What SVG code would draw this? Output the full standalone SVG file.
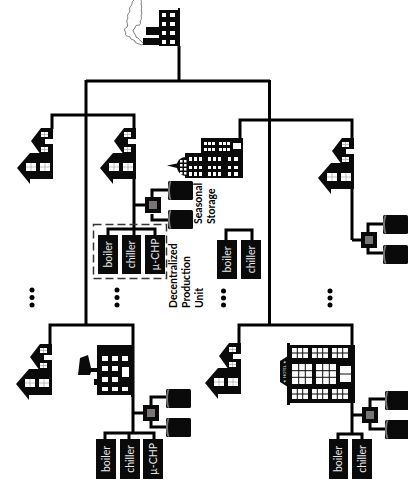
<svg xmlns="http://www.w3.org/2000/svg" width="408" height="484" viewBox="0 0 408 484">
<style>
.ln{fill:none;stroke:#000;stroke-width:3}
.k{fill:#0a0a0a}
.w{fill:#fff}
.g{fill:none;stroke:#0a0a0a;stroke-width:1}
.lb{font-family:Lato,"Liberation Sans",sans-serif;font-size:10.5px;fill:#e8e8e8;text-anchor:middle}
.cap{font-family:Lato,"Liberation Sans",sans-serif;font-size:10.5px;font-weight:700;fill:#000}
.dash{fill:none;stroke:#333;stroke-width:1.5;stroke-dasharray:8 4}
</style>
<defs>
<g id="house">
<path class="k" d="M22 0H10L0 13L10 27H22Z"/>
<path class="k" d="M22 25H0V25L-1 25L-14 40L-1 56V51H22Z"/>
<rect class="w" x="10" y="4" width="7" height="5"/>
<rect class="w" x="10" y="19" width="7" height="5"/>
<rect class="w" x="14" y="11" width="8" height="5"/>
<rect class="w" x="-5" y="35" width="10" height="8"/>
<rect class="w" x="9" y="35" width="10" height="8"/>
<path d="M0 35v8M14 35v8M-5 39h10M9 39h10M13.500 4v5M13.500 19v5M10 6.500h7M10 21.500h7" stroke="#999" stroke-width=".6" fill="none"/>
</g>
<g id="tank">
<rect class="k" x="0" y="0" width="25" height="19" rx="1.500"/>
<ellipse cx="2.500" cy="9.500" rx="2.500" ry="9.500" fill="#777"/>
<ellipse cx="4.500" cy="9.500" rx="2.500" ry="9.500" fill="#0a0a0a"/>
</g>
<g id="hub">
<rect class="k" x="0" y="0" width="16" height="16"/>
<rect x="4" y="4" width="8" height="8" fill="#7a7474"/>
</g>
<g id="w3"><rect class="w" width="16" height="10"/><path class="g" d="M5.300 0v10M10.700 0v10M0 5h16"/></g>
<g id="w9"><rect class="w" width="20" height="20"/><path class="g" d="M6.700 0v20M13.300 0v20M0 6.700h20M0 13.300h20"/></g>
</defs>

<g id="connectors">
<path class="ln" d="M179 46V81M86 81H270M86 80V326M269.500 80V326"/>
<path class="ln" d="M52 129V115H134V230M108 235V229H155V235M134 229V235"/>
<path class="ln" d="M240 176V120H352V240M226 240V230H252V240"/>
<path class="ln" d="M50 345V325H133V434M105 439V433H154V439M129 433V439"/>
<path class="ln" d="M239 345V325H352V434M338 439V434H362V439"/>
<path class="ln" d="M134 205H146M152 197V190H168M152 214V220H168"/>
<path class="ln" d="M352 240H362M368 232V224H383M368 247V253H383"/>
<path class="ln" d="M133 413H144M151 405V397H166M151 420V427H166"/>
<path class="ln" d="M352 415H363M370 407V399H385M370 423V429H385"/>
</g>

<g id="factory">
<path d="M134 0C131 2 133 4 131 6C128 8 131 11 129 13C126 15 129 18 127 20C126 23 129 24 127 27C123 29 125 31 126 33C124 36 128 36 130 37C130 40 133 39 135 41C135 44 139 43 141 45L144 44C140 41 139 38 136 37C136 34 133 33 133 30C136 29 134 26 137 25C140 26 141 24 140 21C143 19 140 16 142 13C140 10 143 7 141 4C142 2 141 1 141 0" fill="#fff" stroke="#444" stroke-width=".7"/>
<rect class="k" x="159" y="10" width="20" height="36"/>
<rect class="k" x="178" y="8" width="2" height="40"/>
<rect class="k" x="146" y="27" width="14" height="8"/>
<rect class="k" x="143" y="38" width="17" height="7"/>
<path class="w" d="M162 13h4v4h-4zM170 13h5v4h-5zM162 22h4v4h-4zM170 22h5v4h-5zM162 31h4v4h-4zM170 31h5v4h-5zM162 40h4v4h-4zM170 40h5v4h-5z"/>
</g>

<g id="house-1"><use href="#house" x="31" y="128"/></g>
<g id="house-2"><use href="#house" x="114" y="128"/></g>
<g id="house-3"><use href="#house" x="332" y="138"/></g>
<g id="house-4"><use href="#house" x="30" y="344"/></g>
<g id="house-5"><use href="#house" x="219" y="343"/></g>

<g id="office">
<rect class="k" x="201" y="138" width="42" height="20"/>
<rect class="k" x="185" y="153" width="58" height="25"/>
<path class="k" d="M167 165.500L177 163.500C178 160 181 157 186 157V176C181 176 178 172 177 168Z"/>
<g class="w">
<rect x="180" y="160" width="2.500" height="2.500"/><rect x="184" y="160" width="2.500" height="2.500"/>
<rect x="180" y="164" width="2.500" height="2.500"/><rect x="184" y="164" width="2.500" height="2.500"/>
<rect x="180" y="168" width="2.500" height="2.500"/><rect x="184" y="168" width="2.500" height="2.500"/>
<rect x="180" y="172" width="2.500" height="2.500"/><rect x="184" y="172" width="2.500" height="2.500"/>
</g>
<path class="w" d="M204 142h3v3h-3zM208 142h3v3h-3zM212 142h3v3h-3zM219 142h3v3h-3zM223 142h3v3h-3zM227 142h3v3h-3zM204 148h3v3h-3zM208 148h3v3h-3zM212 148h3v3h-3zM219 148h3v3h-3zM223 148h3v3h-3zM227 148h3v3h-3z"/>
<rect class="w" x="233" y="143" width="8" height="6"/>
<path class="w" d="M189 157h3v4h-3zM194 157h3v4h-3zM199 157h3v4h-3zM208 157h3v4h-3zM213 157h3v4h-3zM218 157h3v4h-3zM228 157h3v4h-3zM234 157h4v4h-4zM189 166h3v3h-3zM194 166h3v3h-3zM199 166h3v3h-3zM208 166h3v3h-3zM213 166h3v3h-3zM218 166h3v3h-3zM228 166h3v3h-3zM234 166h4v3h-4zM189 172h3v4h-3zM194 172h3v4h-3zM199 172h3v4h-3zM208 172h3v4h-3zM213 172h3v4h-3zM218 172h3v4h-3zM228 172h3v4h-3zM234 172h4v4h-4z"/>
</g>

<g id="school">
<path class="k" d="M97 345H134V397H131V395H97V385H94V379H97V372H91L90 375H78L80 358L88 355L91 368H97Z"/>
<path class="w" d="M102 356h6v5h-6zM112 356h6v5h-6zM122 356h6v5h-6zM102 366h6v5h-6zM112 366h6v5h-6zM122 367h7v10h-7zM102 377h6v5h-6zM112 377h6v5h-6zM102 387h6v4h-6zM112 387h6v4h-6zM122 387h6v4h-6z"/>
</g>

<g id="hotel">
<rect class="k" x="288" y="345" width="67" height="58"/>
<rect class="k" x="287" y="343" width="3" height="62"/>
<path class="k" d="M288 356L280 361V382L288 387Z"/>
<text transform="translate(285.500 371.500) rotate(-90)" font-family="Lato,'Liberation Sans',sans-serif" font-size="4" fill="#ddd" text-anchor="middle">★ HOTEL ★</text>
<use href="#w3" x="292" y="348"/><use href="#w3" x="312" y="348"/><use href="#w3" x="332" y="348"/>
<use href="#w9" x="292" y="364"/><use href="#w9" x="316" y="364"/>
<rect class="w" x="340" y="366" width="11" height="16"/><path class="g" d="M340 374h11"/>
<use href="#w3" x="292" y="389"/><use href="#w3" x="312" y="389"/><use href="#w3" x="332" y="389"/>
</g>

<g id="storage-1"><use href="#hub" x="145" y="197"/><use href="#tank" x="168" y="181"/><use href="#tank" x="168" y="210"/></g>
<g id="storage-2"><use href="#hub" x="361" y="232"/><use href="#tank" x="383" y="215"/><use href="#tank" x="383" y="245"/></g>
<g id="storage-3"><use href="#hub" x="143" y="405"/><use href="#tank" x="166" y="389"/><use href="#tank" x="166" y="418"/></g>
<g id="storage-4"><use href="#hub" x="362" y="407"/><use href="#tank" x="385" y="391"/><use href="#tank" x="385" y="420"/></g>

<g id="unit-1">
<rect class="dash" x="93.500" y="224.500" width="73" height="54"/>
<rect class="k" x="98" y="235" width="20" height="39"/><text class="lb" transform="translate(111.500 254.500) rotate(-90)">boiler</text>
<rect class="k" x="122" y="235" width="19" height="39"/><text class="lb" transform="translate(135 254.500) rotate(-90)">chiller</text>
<rect class="k" x="145" y="235" width="20" height="39"/><text class="lb" transform="translate(158.500 254.500) rotate(-90)">µ-CHP</text>
</g>
<g id="unit-2">
<rect class="k" x="217" y="240" width="20" height="39"/><text class="lb" transform="translate(230.500 259.500) rotate(-90)">boiler</text>
<rect class="k" x="241" y="240" width="20" height="39"/><text class="lb" transform="translate(254.500 259.500) rotate(-90)">chiller</text>
</g>
<g id="unit-3">
<rect class="k" x="96" y="439" width="20" height="40"/><text class="lb" transform="translate(109.500 459) rotate(-90)">boiler</text>
<rect class="k" x="120" y="439" width="20" height="40"/><text class="lb" transform="translate(133.500 459) rotate(-90)">chiller</text>
<rect class="k" x="143" y="439" width="20" height="40"/><text class="lb" transform="translate(156.500 459) rotate(-90)">µ-CHP</text>
</g>
<g id="unit-4">
<rect class="k" x="329" y="439" width="19" height="40"/><text class="lb" transform="translate(342 459) rotate(-90)">boiler</text>
<rect class="k" x="352" y="439" width="20" height="40"/><text class="lb" transform="translate(365.500 459) rotate(-90)">chiller</text>
</g>

<g id="labels">
<text class="cap" transform="translate(202 224) rotate(-90)">Seasonal</text>
<text class="cap" transform="translate(215 224) rotate(-90)">Storage</text>
<text class="cap" transform="translate(177 308) rotate(-90)">Decentralized</text>
<text class="cap" transform="translate(190 308) rotate(-90)">Production</text>
<text class="cap" transform="translate(203 308) rotate(-90)">Unit</text>
</g>

<g id="ellipsis" fill="#000">
<circle cx="32" cy="290" r="2.500"/><circle cx="32" cy="297.500" r="2.500"/><circle cx="32" cy="305" r="2.500"/>
<circle cx="117" cy="290" r="2.500"/><circle cx="117" cy="297.500" r="2.500"/><circle cx="117" cy="305" r="2.500"/>
<circle cx="223.500" cy="291" r="2.500"/><circle cx="223.500" cy="298" r="2.500"/><circle cx="223.500" cy="305" r="2.500"/>
<circle cx="330" cy="291" r="2.500"/><circle cx="330" cy="298" r="2.500"/><circle cx="330" cy="305" r="2.500"/>
</g>
</svg>
